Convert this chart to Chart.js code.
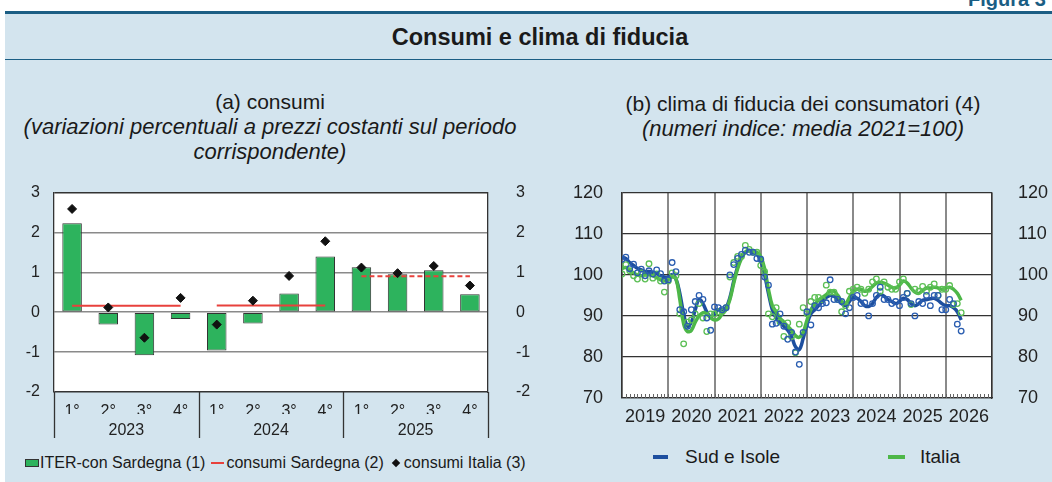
<!DOCTYPE html>
<html>
<head>
<meta charset="utf-8">
<script src="https://cdn.jsdelivr.net/npm/chart.js@4.4.1/dist/chart.umd.min.js"></script>
<style>
  body { margin: 0; width: 1052px; height: 482px; background: #fff; position: relative; overflow: hidden;
         font-family: "Liberation Sans", Arial, sans-serif; color: #1a1a1a; }
  .abs { position: absolute; }
  #panel { left: 5px; top: 13px; right: 0; bottom: 0; background: #d3e4ee; }
  #topline { left: 5px; top: 11px; right: 0; height: 2.5px; background: #1b5e84; }
  #sepline { left: 5px; top: 58.5px; right: 0; height: 1.5px; background: #1b5e84; }
  #figura { left: 968px; top: -11px; font-weight: bold; font-size: 20px; line-height: 20px; color: #1b5e84; white-space: nowrap; }
  #title { left: 240px; width: 600px; top: 22px; text-align: center; font-weight: bold; font-size: 23.5px; line-height: 30px; }
  .sub { text-align: center; font-size: 21px; line-height: 25px; white-space: nowrap; }
  .sub i { font-style: italic; font-size: 22px; }
  #subA { left: 0; width: 540px; top: 89px; }
  #subB { left: 563px; width: 480px; top: 91px; }
  canvas { position: absolute; }
  #legA { left: 25px; top: 453px; height: 20px; display: flex; align-items: center; font-size: 16px; white-space: nowrap; }
  .box { width: 12px; height: 6px; background: #2db35d; border: 1px solid #333; margin-right: 1px; }
  .rl { width: 13px; height: 2px; background: #e8413c; margin: 0 2px 0 6px; }
  .dia { width: 6px; height: 6px; background: #111; transform: rotate(45deg); margin: 0 5px 0 9px; }
  .leg { font-size: 19px; line-height: 22px; white-space: nowrap; }
  .ln { height: 3.5px; }
</style>
</head>
<body>
<div class="abs" id="panel"></div>
<div class="abs" id="topline"></div>
<div class="abs" id="figura">Figura 3</div>
<div class="abs" id="title">Consumi e clima di fiducia</div>
<div class="abs" id="sepline"></div>
<div class="abs sub" id="subA">(a) consumi<br><i>(variazioni percentuali a prezzi costanti sul periodo<br>corrispondente)</i></div>
<div class="abs sub" id="subB">(b) clima di fiducia dei consumatori (4)<br><i>(numeri indice: media 2021=100)</i></div>

<canvas id="chartA" width="545" height="282" style="left:0;top:163px;"></canvas>
<canvas id="chartB" width="492" height="282" style="left:560px;top:163px;"></canvas>

<div class="abs" id="legA">
  <span class="box"></span>ITER-con Sardegna (1)
  <span class="rl"></span>consumi Sardegna (2)
  <span class="dia"></span>consumi Italia (3)
</div>
<div class="abs ln" style="left:653px;top:455px;width:15px;background:#1d4f9f;"></div>
<div class="abs leg" style="left:685px;top:446px;">Sud e Isole</div>
<div class="abs ln" style="left:888px;top:455px;width:17px;background:#4db748;"></div>
<div class="abs leg" style="left:920px;top:446px;">Italia</div>

<script>
// (a) consumi - quarterly
const quarters = ["1°", "2°", "3°", "4°", "1°", "2°", "3°", "4°", "1°", "2°", "3°", "4°"];
const years = ["2023", "2024", "2025"];
const iterSardegna = [2.23, -0.31, -1.08, -0.17, -0.96, -0.28, 0.47, 1.40, 1.13, 0.95, 1.05, 0.45];
const consumiSardegna = [0.16, 0.16, 0.16, 0.16, 0.17, 0.17, 0.17, 0.17, 0.90, 0.90, 0.90, 0.90];
const consumiItalia = [2.59, 0.12, -0.64, 0.36, -0.31, 0.29, 0.91, 1.78, 1.12, 0.98, 1.16, 0.67];

// (b) clima di fiducia - monthly from Jan 2019
const yearLabels = ["2019", "2020", "2021", "2022", "2023", "2024", "2025", "2026"];
const sudLine = [
  104.2, 104.0, 103.0, 102.3, 101.6, 101.2, 100.8, 100.8, 100.6, 100.3, 99.8, 99.5,
  99.5, 100.0, 99.0, 95.5, 90.5, 87.5, 88.5, 91.5, 94.0, 93.0, 91.0, 89.8,
  90.5, 91.5, 91.5, 92.0, 94.5, 98.5, 102.0, 104.5, 105.5, 105.8, 105.5, 105.0,
  103.5, 100.0, 95.5, 91.5, 89.5, 88.5, 87.5, 86.5, 85.0, 82.5, 81.8, 84.5,
  88.0, 90.5, 91.5, 92.5, 93.5, 94.5, 95.0, 94.8, 94.0, 93.0, 92.5, 93.5,
  94.5, 94.3, 93.5, 92.5, 92.3, 93.0, 94.5, 95.2, 94.8, 94.0, 93.5, 93.0,
  93.5, 94.3, 94.0, 93.0, 92.5, 93.0, 93.8, 94.0, 94.2, 94.3, 93.8, 93.0,
  92.5, 92.5, 92.0, 91.0, 89.0
];
const italiaLine = [
  101.5, 101.8, 101.0, 100.5, 100.0, 99.8, 100.2, 100.0, 99.8, 99.3, 98.8, 98.5,
  98.8, 99.5, 99.0, 94.0, 88.0, 86.2, 86.5, 88.5, 90.0, 90.8, 90.5, 89.5,
  89.0, 89.3, 90.5, 91.5, 94.0, 98.0, 101.5, 104.0, 105.5, 106.0, 105.8, 105.5,
  104.5, 101.5, 96.5, 92.5, 91.0, 89.5, 88.5, 87.5, 86.5, 85.2, 84.8, 86.0,
  89.0, 91.5, 92.8, 93.8, 94.5, 95.2, 96.0, 96.0, 95.0, 93.5, 93.0, 94.5,
  96.0, 96.5, 96.5, 96.0, 96.3, 97.2, 98.0, 98.2, 98.0, 97.5, 97.0, 96.8,
  97.5, 98.5, 98.0, 96.8, 95.8, 95.5, 96.2, 96.8, 96.8, 97.0, 96.8, 96.5,
  96.8, 97.0, 96.5, 95.5, 93.8
];
const sudDots = [
  103.8, 104.3, 101.5, 102.6, 100.5, 101.4, 99.8, 101.0, 100.2, 101.2, 100.3, 98.5,
  98.8, 103.0, 100.8, 91.5, 91.0, 87.5, 91.5, 93.5, 95.0, 94.0, 89.5, 86.5,
  92.2, 92.0, 91.5, 92.0, 100.0, 102.5, 104.0, 105.0, 106.0, 105.5, 105.5, 104.0,
  103.8, 99.5, 97.5, 88.0, 88.2, 90.5, 87.5, 84.3, 86.0, 81.2, 78.2, 86.0,
  91.0, 87.8, 92.5, 92.0, 93.0, 93.2, 98.8, 94.0, 94.0, 93.5, 90.5, 92.0,
  94.5, 95.0, 93.0, 93.2, 90.0, 93.0, 95.0, 97.0, 94.0, 94.0, 93.0, 93.5,
  92.5, 94.5, 95.5, 93.0, 90.0, 93.5, 93.0, 95.0, 92.5, 95.0, 95.0, 91.5,
  91.5, 94.0, 93.0, 88.0, 86.3
];
const italiaDots = [
  100.2, 102.5, 101.0, 99.8, 99.0, 100.5, 99.0, 102.7, 99.2, 100.2, 98.5, 95.8,
  98.5, 100.5, 99.8, 90.5, 83.2, 88.5, 89.0, 90.5, 93.0, 89.5, 86.2, 90.5,
  90.5, 91.0, 91.0, 92.0, 99.5, 103.0, 104.5, 104.5, 107.2, 106.2, 105.5, 105.5,
  102.3, 100.8, 90.5, 89.8, 92.0, 88.5, 85.0, 88.3, 85.0, 81.0, 88.0, 92.0,
  90.5, 93.5, 94.5, 94.5, 94.0, 97.5, 95.8, 95.8, 94.0, 91.0, 92.5, 96.0,
  96.5, 97.0, 96.5, 95.5, 96.5, 98.3, 99.0, 96.0, 98.3, 97.0, 96.5, 96.5,
  98.3, 99.0, 95.5, 92.8, 96.5, 96.0, 97.2, 96.0, 97.0, 97.8, 95.0, 96.5,
  96.5, 97.4, 92.8, 93.0, 90.8
];

const GREEN = "#2db35d";
const RED = "#e8413c";
const BLUE = "#1d4f9f";
const LGREEN = "#4db748";
const FONT = "'Liberation Sans', Arial, sans-serif";

const whiteArea = {
  id: "whiteArea",
  beforeDraw: (chart) => {
    const { ctx, chartArea: a } = chart;
    ctx.save();
    ctx.fillStyle = "#fff";
    ctx.fillRect(a.left, a.top, a.right - a.left, a.bottom - a.top);
    ctx.restore();
  },
};

// vertical separators between years under the quarter labels
const yearSeparators = {
  id: "yearSeparators",
  afterDraw: (chart) => {
    const { ctx, chartArea: a } = chart;
    const xs = chart.scales.x;
    const n = quarters.length;
    ctx.save();
    ctx.strokeStyle = "#333";
    ctx.lineWidth = 1.3;
    for (let k = 0; k <= n; k += 4) {
      const x = Math.round(xs.left + ((xs.right - xs.left) * k) / n) + 0.5;
      ctx.beginPath();
      ctx.moveTo(x, a.bottom);
      ctx.lineTo(x, a.bottom + 46);
      ctx.stroke();
    }
    ctx.restore();
  },
};

// small monthly ticks along the bottom of the plot
const monthTicks = {
  id: "monthTicks",
  afterDatasetsDraw: (chart) => {
    const { ctx, chartArea: a } = chart;
    const xs = chart.scales.x;
    ctx.save();
    ctx.strokeStyle = "#666";
    ctx.lineWidth = 1;
    for (let m = 1; m < yearLabels.length * 12; m++) {
      const x = Math.round(xs.getPixelForValue(m)) + 0.5;
      ctx.beginPath();
      ctx.moveTo(x, a.bottom);
      ctx.lineTo(x, a.bottom - 4);
      ctx.stroke();
    }
    ctx.restore();
  },
};

new Chart(document.getElementById("chartA"), {
  type: "bar",
  data: {
    labels: quarters,
    datasets: [
      {
        type: "scatter",
        label: "consumi Italia (3)",
        data: consumiItalia,
        showLine: false,
        pointStyle: "rectRot",
        pointRadius: 4.5,
        pointBackgroundColor: "#111",
        pointBorderColor: "#111",
        order: 0,
      },
      {
        type: "line",
        label: "consumi Sardegna (2)",
        data: consumiSardegna,
        borderColor: RED,
        borderWidth: 2,
        pointRadius: 0,
        segment: {
          borderColor: (ctx) => (ctx.p0DataIndex % 4 === 3 ? "rgba(0,0,0,0)" : RED),
          borderDash: (ctx) => (ctx.p0DataIndex >= 8 ? [5, 3] : []),
        },
        order: 1,
      },
      {
        label: "ITER-con Sardegna (1)",
        data: iterSardegna,
        backgroundColor: GREEN,
        borderColor: "#333",
        borderWidth: 1,
        borderSkipped: false,
        barPercentage: 0.54,
        categoryPercentage: 1,
        order: 2,
      },
    ],
  },
  options: {
    responsive: false,
    animation: false,
    devicePixelRatio: 1,
    layout: { padding: { top: 4, left: 0, right: 0, bottom: 0 } },
    plugins: { legend: { display: false }, tooltip: { enabled: false } },
    scales: {
      x: {
        type: "category",
        offset: true,
        grid: { display: false },
        border: { display: false },
        ticks: { color: "#222", font: { family: FONT, size: 16 }, padding: 2, maxRotation: 0, autoSkip: false },
        afterFit: (s) => { s.height = 22; },
      },
      x2: {
        type: "category",
        labels: years,
        position: "bottom",
        weight: 1,
        offset: true,
        grid: { display: false },
        border: { display: false },
        ticks: { color: "#222", font: { family: FONT, size: 16 }, padding: -1, maxRotation: 0 },
        afterFit: (s) => { s.height = 31; },
      },
      y: {
        position: "left",
        min: -2,
        max: 3,
        ticks: { stepSize: 1, color: "#222", font: { family: FONT, size: 16 }, padding: 14 },
        grid: {
          color: (ctx) => (ctx.tick.value === 3 || ctx.tick.value === -2 ? "#333" : "#8a8a8a"),
          lineWidth: 1.5,
          drawTicks: false,
        },
        border: { color: "#333", width: 1.3 },
        afterFit: (s) => { s.width = 54; },
      },
      y2: {
        position: "right",
        min: -2,
        max: 3,
        ticks: { stepSize: 1, color: "#222", font: { family: FONT, size: 16 }, padding: 20 },
        grid: { display: false },
        border: { color: "#333", width: 1.3 },
        afterFit: (s) => { s.width = 57; },
      },
    },
  },
  plugins: [whiteArea, yearSeparators],
});

const toPoints = (arr) => arr.map((v, i) => ({ x: i, y: v }));

new Chart(document.getElementById("chartB"), {
  type: "line",
  data: {
    datasets: [
      {
        label: "Sud e Isole (mensile)",
        data: toPoints(sudDots),
        showLine: false,
        pointRadius: 2.8,
        pointBorderWidth: 1.3,
        pointBorderColor: "#2a5db0",
        pointBackgroundColor: "rgba(255,255,255,0)",
      },
      {
        label: "Italia (mensile)",
        data: toPoints(italiaDots),
        showLine: false,
        pointRadius: 2.8,
        pointBorderWidth: 1.3,
        pointBorderColor: "#5cbf55",
        pointBackgroundColor: "rgba(255,255,255,0)",
      },
      {
        label: "Italia",
        data: toPoints(italiaLine),
        borderColor: LGREEN,
        borderWidth: 3.5,
        pointRadius: 0,
        tension: 0.4,
      },
      {
        label: "Sud e Isole",
        data: toPoints(sudLine),
        borderColor: BLUE,
        borderWidth: 3.5,
        pointRadius: 0,
        tension: 0.4,
      },
    ],
  },
  options: {
    responsive: false,
    animation: false,
    devicePixelRatio: 1,
    layout: { padding: { top: 4, left: 0, right: 0, bottom: 0 } },
    plugins: { legend: { display: false }, tooltip: { enabled: false } },
    scales: {
      x: {
        type: "linear",
        min: 0,
        max: yearLabels.length * 12,
        afterBuildTicks: (s) => {
          const t = [];
          for (let v = 0; v <= yearLabels.length * 12; v += 6) t.push({ value: v });
          s.ticks = t;
        },
        ticks: {
          autoSkip: false,
          maxRotation: 0,
          color: "#222",
          font: { family: FONT, size: 18 },
          padding: 8,
          callback: (v) => (v % 12 === 6 ? yearLabels[(v - 6) / 12] : ""),
        },
        grid: {
          color: (ctx) => (ctx.tick.value % 12 === 0 ? "#8a8a8a" : "rgba(0,0,0,0)"),
          lineWidth: 2,
          drawTicks: false,
        },
        border: { color: "#333", width: 1.3 },
        afterFit: (s) => { s.height = 47; },
      },
      y: {
        position: "left",
        min: 70,
        max: 120,
        ticks: { stepSize: 10, color: "#222", font: { family: FONT, size: 18 }, padding: 19 },
        grid: { color: "#333", lineWidth: 1.3, drawTicks: false },
        border: { color: "#333", width: 1.3 },
        afterFit: (s) => { s.width = 62; },
      },
      y2: {
        position: "right",
        min: 70,
        max: 120,
        ticks: { stepSize: 10, color: "#222", font: { family: FONT, size: 18 }, padding: 18 },
        grid: { display: false },
        border: { color: "#333", width: 1.3 },
        afterFit: (s) => { s.width = 60; },
      },
    },
  },
  plugins: [whiteArea, monthTicks],
});
</script>
</body>
</html>
